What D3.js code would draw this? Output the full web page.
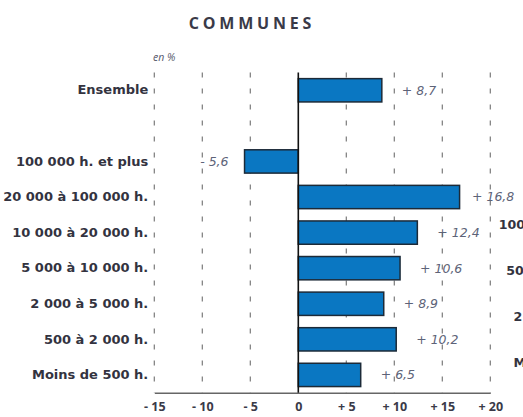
<!DOCTYPE html>
<html>
<head>
<meta charset="utf-8">
<script src="https://cdn.jsdelivr.net/npm/d3@7"></script>
<style>
  body { margin: 0; background: #fff; }
  svg { display: block; font-family: "DejaVu Sans", sans-serif; }
</style>
</head>
<body>
<script>
const width = 523, height = 417;

// data
const categories = ["Ensemble", "", "100 000 h. et plus", "20 000 à 100 000 h.", "10 000 à 20 000 h.",
                    "5 000 à 10 000 h.", "2 000 à 5 000 h.", "500 à 2 000 h.", "Moins de 500 h."];
const values = [8.7, null, -5.6, 16.8, 12.4, 10.6, 8.9, 10.2, 6.5];
const ticks = [-15, -10, -5, 0, 5, 10, 15, 20];
// what shows of the next chart's labels, cut off at the right edge
const neighbourLabels = ["100", "50", "2", "M"];

const rows = categories.map((c, i) => ({ key: c === "" ? "_gap" : c, label: c, value: values[i] }));

const x = d3.scaleLinear().domain([-15, 20]).range([154.3, 490.3]);
const y = d3.scaleBand()
    .domain(rows.map(d => d.key))
    .range([72.5, 392.7])
    .paddingInner(0.345)
    .paddingOuter(0.1725);

const fmt = v => (v < 0 ? "- " : "+ ") + d3.format(".1f")(Math.abs(v)).replace(".", ",");

const svg = d3.select("body").append("svg")
    .attr("width", width).attr("height", height);

svg.append("text")
    .attr("x", 252).attr("y", 28.5)
    .attr("text-anchor", "middle")
    .style("font-family", "Open Sans, sans-serif")
    .style("font-size", "16px").style("font-weight", 700)
    .style("letter-spacing", "3.8px")
    .style("fill", "#3a3a48")
    .text("COMMUNES");

svg.append("text")
    .attr("x", 153).attr("y", 61)
    .style("font-family", "Open Sans, sans-serif")
    .style("font-size", "10.5px").style("font-style", "italic")
    .style("fill", "#55586a")
    .text("en %");

// dashed grid
svg.append("g").selectAll("line")
  .data(ticks.filter(t => t !== 0))
  .join("line")
    .attr("x1", d => x(d)).attr("x2", d => x(d))
    .attr("y1", y.range()[0]).attr("y2", y.range()[1])
    .attr("stroke", "#7a7a7a").attr("stroke-width", 1.2)
    .attr("stroke-dasharray", "5,11");

// bottom axis
const xAxis = svg.append("g")
    .attr("transform", `translate(0,${y.range()[1]})`)
    .call(d3.axisBottom(x).tickValues(ticks).tickSize(0).tickPadding(9)
      .tickFormat(d => d === 0 ? "0" : (d < 0 ? "- " : "+ ") + Math.abs(d)));
xAxis.select(".domain").attr("stroke", "#666").attr("stroke-width", 1.6);
xAxis.selectAll("text")
    .style("font-size", "12.5px").style("font-weight", 700)
    .style("fill", "#3a3a48").style("font-family", "Open Sans, sans-serif");

// category labels
const yAxis = svg.append("g")
    .attr("transform", `translate(${x(-15)},0)`)
    .call(d3.axisLeft(y).tickSize(0).tickPadding(6)
      .tickFormat(k => rows.find(r => r.key === k).label));
yAxis.select(".domain").remove();
yAxis.selectAll("text")
    .style("font-size", "13px").style("font-weight", 700)
    .style("fill", "#33333f").style("font-family", "DejaVu Sans, sans-serif");

const bars = rows.filter(d => d.value !== null);

svg.append("g").selectAll("rect")
  .data(bars)
  .join("rect")
    .attr("x", d => x(Math.min(0, d.value)))
    .attr("y", d => y(d.key))
    .attr("width", d => Math.abs(x(d.value) - x(0)))
    .attr("height", y.bandwidth())
    .attr("fill", "#0a77c2")
    .attr("stroke", "#1c2a38").attr("stroke-width", 1.5);

// zero line
svg.append("line")
    .attr("x1", x(0)).attr("x2", x(0))
    .attr("y1", y.range()[0]).attr("y2", y.range()[1])
    .attr("stroke", "#111").attr("stroke-width", 1.6);

// value labels
svg.append("g").selectAll("text")
  .data(bars)
  .join("text")
    .attr("x", d => d.value < 0 ? x(d.value) - 16 : Math.min(x(d.value) + 20, 472))
    .attr("y", d => y(d.key) + y.bandwidth() / 2)
    .attr("dy", "0.35em")
    .attr("text-anchor", d => d.value < 0 ? "end" : "start")
    .style("font-size", "12.5px").style("font-style", "italic")
    .style("fill", "#5d6378")
    .text(d => fmt(d.value));

// neighbouring chart fragments
const ny = d3.scaleLinear().domain([0, neighbourLabels.length - 1]).range([225, 363]);
svg.append("g").selectAll("text")
  .data(neighbourLabels)
  .join("text")
    .attr("x", d => width - 2 - d.length * 7.4)
    .attr("y", (d, i) => ny(i))
    .attr("dy", "0.35em")
    .style("font-size", "12.6px").style("font-weight", 700)
    .style("fill", "#33333f")
    .text(d => d);
</script>
</body>
</html>
